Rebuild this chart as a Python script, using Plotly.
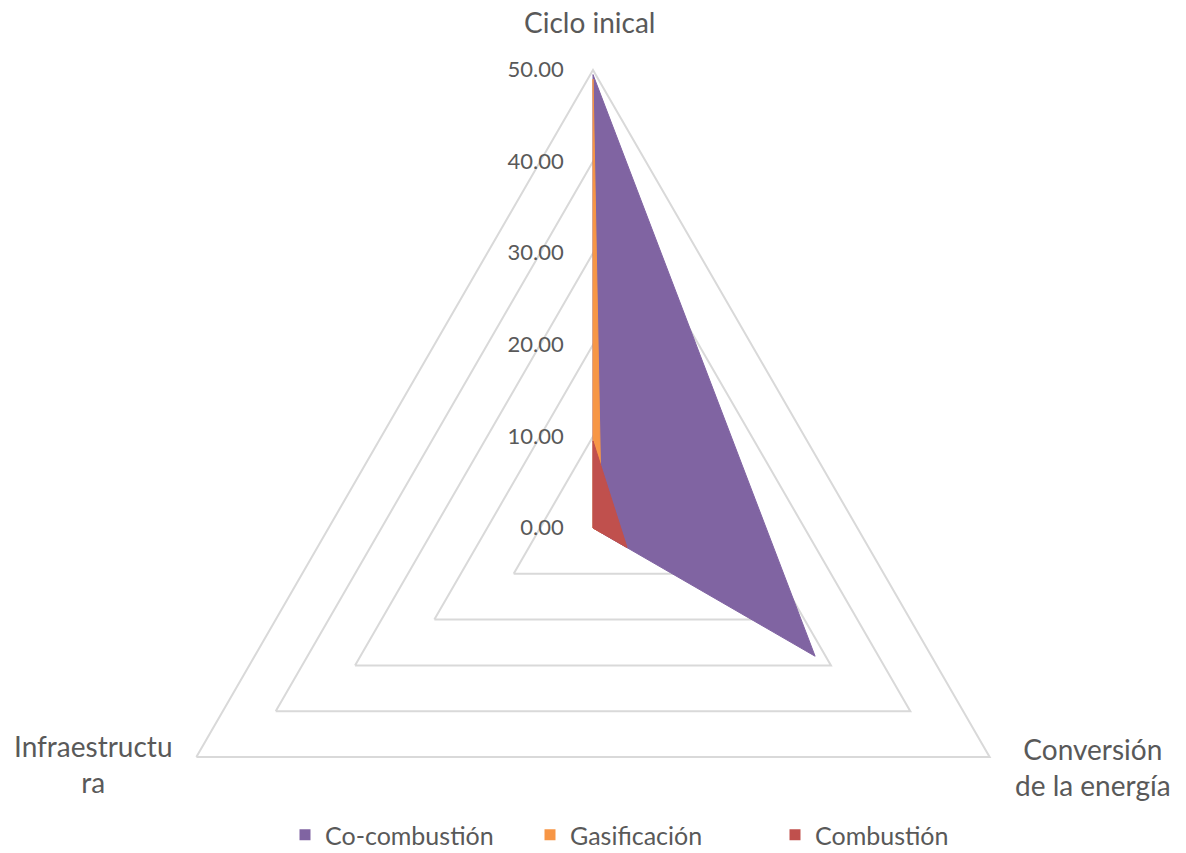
import plotly.graph_objects as go

# Radar categories and the wrapped labels shown around the chart
categories = ["Ciclo inical", "Conversión de la energía", "Infraestructura"]
category_labels = ["Ciclo inical", "Conversión<br>de la energía", "Infraestructu<br>ra"]

# Series values, in category order
series_names = ["Co-combustión", "Gasificación", "Combustión"]
co_combustion = [49.5, 28.0, 0.0]
gasificacion = [49.0, 1.1, 0.0]
combustion = [9.5, 4.3, 0.0]

radial_ticks = [0, 10, 20, 30, 40, 50]

colors = ["#8064A2", "#F79646", "#C0504D"]
text_color = "#595959"
grid_color = "#D9D9D9"
font_family = "Lato, Open Sans, sans-serif"

# Canvas and radar geometry (pixels)
W, H = 1186, 1000
cx, cy, R = 593, 528, 458

fig = go.Figure()
for name, vals, col in zip(series_names, [co_combustion, gasificacion, combustion], colors):
    fig.add_trace(go.Scatterpolar(
        r=vals + vals[:1],
        theta=categories + categories[:1],
        name=name,
        mode="lines",
        fill="toself",
        fillcolor=col,
        line=dict(color=col, width=1),
        hoverinfo="name+r+theta",
        showlegend=False,
        legendgroup=name,
    ))

# Square legend keys for each series
for name, col in zip(series_names, colors):
    fig.add_trace(go.Scatterpolar(
        r=[None],
        theta=[None],
        name=name,
        mode="markers",
        marker=dict(symbol="square", size=11, color=col),
        showlegend=True,
        legendgroup=name,
        hoverinfo="skip",
    ))

# Category labels, placed just outside each vertex of the outer triangle
label_pos = [(589, 22), (1093, 767), (93, 764)]
annotations = [
    dict(
        text=lab,
        x=px / W,
        y=(H - py) / H,
        xref="paper",
        yref="paper",
        xanchor="center",
        yanchor="middle",
        align="center",
        showarrow=False,
        font=dict(size=28, family=font_family, color=text_color),
    )
    for lab, (px, py) in zip(category_labels, label_pos)
]

fig.update_layout(
    width=W,
    height=H,
    margin=dict(l=0, r=0, t=0, b=0),
    paper_bgcolor="white",
    font=dict(family=font_family, color=text_color),
    annotations=annotations,
    polar=dict(
        domain=dict(x=[(cx - R) / W, (cx + R) / W], y=[(H - cy - R) / H, (H - cy + R) / H]),
        gridshape="linear",
        bgcolor="white",
        angularaxis=dict(
            type="category",
            categoryarray=categories,
            rotation=90,
            direction="clockwise",
            showticklabels=False,
            showgrid=False,
            showline=True,
            linecolor=grid_color,
            linewidth=2,
            ticks="",
        ),
        radialaxis=dict(
            range=[0, 50],
            tickmode="array",
            tickvals=radial_ticks,
            tickformat=".2f",
            tickangle=90,
            angle=90,
            side="counterclockwise",
            showline=False,
            gridcolor=grid_color,
            gridwidth=2,
            ticks="outside",
            ticklen=21,
            tickcolor="rgba(0,0,0,0)",
            tickfont=dict(size=22, family=font_family, color=text_color),
        ),
    ),
    legend=dict(
        orientation="h",
        x=285 / W,
        xanchor="left",
        y=(H - 835) / H,
        yanchor="middle",
        font=dict(size=25, family=font_family, color=text_color),
        itemwidth=30,
        entrywidth=200,
        entrywidthmode="pixels",
        itemclick=False,
        itemdoubleclick=False,
    ),
)

fig.write_html(
    "out.html",
    post_script="document.documentElement.style.overflow='hidden';document.body.style.overflow='hidden';document.body.style.margin='0';",
)
